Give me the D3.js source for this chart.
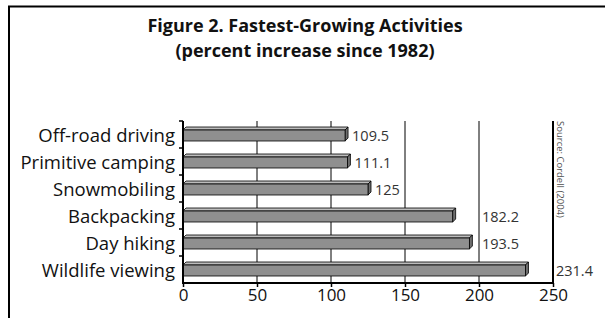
<!DOCTYPE html>
<html>
<head>
<meta charset="utf-8">
<script src="https://cdn.jsdelivr.net/npm/d3@7"></script>
<style>
body { margin: 0; background: #fff; }
text { font-family: "Open Sans", "DejaVu Sans", sans-serif; fill: #111; }
</style>
</head>
<body>
<div id="chart"></div>
<script>
// datos
var categorias = ["Off-road driving", "Primitive camping", "Snowmobiling", "Backpacking", "Day hiking", "Wildlife viewing"];
var valores = [109.5, 111.1, 125, 182.2, 193.5, 231.4];
var ticksX = [0, 50, 100, 150, 200, 250];
var titulo = ["Figure 2. Fastest-Growing Activities", "(percent increase since 1982)"];
var fuente = "Source: Cordell (2004)";

var width = 605;
var height = 318;
var margin = {top: 121, right: 52, bottom: 35, left: 183};
var depth = 3;
var barH = 11;

var svg = d3.select("#chart")
    .append("svg")
    .attr("width", width)
    .attr("height", height);

// marco exterior
svg.append("rect")
    .attr("x", 9)
    .attr("y", 6.5)
    .attr("width", 700)
    .attr("height", 400)
    .attr("fill", "none")
    .attr("stroke", "#000")
    .attr("stroke-width", 2);

svg.selectAll(".titulo")
    .data(titulo)
    .enter()
    .append("text")
    .attr("class", "titulo")
    .attr("x", 305)
    .attr("y", (d, i) => 32 + i * 25)
    .attr("text-anchor", "middle")
    .style("font-size", "18px")
    .style("font-weight", "bold")
    .text(d => d);

var scalex = d3.scaleLinear()
    .domain([0, 250])
    .range([margin.left, width - margin.right]);

var scaley = d3.scaleBand()
    .domain(categorias)
    .range([margin.top, height - margin.bottom]);

var g = svg.append("g");

// lineas verticales
g.selectAll(".grid")
    .data(ticksX.slice(1))
    .enter()
    .append("line")
    .attr("x1", d => scalex(d))
    .attr("x2", d => scalex(d))
    .attr("y1", margin.top)
    .attr("y2", height - margin.bottom)
    .attr("stroke", "#000")
    .attr("stroke-width", d => d == 250 ? 2 : 1);

var data = categorias.map((c, i) => ({cat: c, val: valores[i]}));

var barras = g.selectAll(".bar")
    .data(data)
    .enter()
    .append("g")
    .attr("class", "bar");

function yFront(d) {
    return scaley(d.cat) + scaley.bandwidth() / 2 - barH / 2 + 1;
}

// cara superior
barras.append("path")
    .attr("d", d => {
        var x0 = scalex(0), x1 = scalex(d.val), y = yFront(d);
        return "M" + x0 + "," + y + "L" + (x0 + depth) + "," + (y - depth) +
            "L" + (x1 + depth) + "," + (y - depth) + "L" + x1 + "," + y + "Z";
    })
    .attr("fill", "#bdbdbd")
    .attr("stroke", "#000")
    .attr("stroke-width", 0.8);

// cara lateral
barras.append("path")
    .attr("d", d => {
        var x1 = scalex(d.val), y = yFront(d);
        return "M" + x1 + "," + y + "L" + (x1 + depth) + "," + (y - depth) +
            "L" + (x1 + depth) + "," + (y - depth + barH) + "L" + x1 + "," + (y + barH) + "Z";
    })
    .attr("fill", "#6e6e6e")
    .attr("stroke", "#000")
    .attr("stroke-width", 0.8);

// cara frontal
barras.append("rect")
    .attr("x", scalex(0))
    .attr("y", d => yFront(d))
    .attr("width", d => scalex(d.val) - scalex(0))
    .attr("height", barH)
    .attr("fill", "#8f8f8f")
    .attr("stroke", "#000")
    .attr("stroke-width", 0.8);

// etiquetas de valor, se mueven si pisan una linea
barras.append("text")
    .attr("x", d => {
        var x = scalex(d.val) + depth + 4;
        var w = String(d.val).length * 8;
        ticksX.forEach(t => {
            var gx = scalex(t);
            if (gx > x - 1 && gx < x + w) x = gx + 3;
        });
        return x;
    })
    .attr("y", d => yFront(d) + barH)
    .style("font-size", "14.5px")
    .style("fill", "#333")
    .text(d => d.val);

// eje Y
var Yaxis = d3.axisLeft(scaley).tickSize(0).tickPadding(8);
var gy = svg.append("g")
    .attr("transform", "translate(" + margin.left + ",0)")
    .call(Yaxis);
gy.select(".domain").remove();
gy.selectAll("text")
    .style("font-size", "18.5px")
    .attr("dy", "0.4em");

svg.append("line")
    .attr("x1", margin.left).attr("x2", margin.left)
    .attr("y1", margin.top).attr("y2", height - margin.bottom + 1)
    .attr("stroke", "#000").attr("stroke-width", 2);

// marcas en los limites de cada categoria
svg.selectAll(".ytick")
    .data(categorias)
    .enter()
    .append("line")
    .attr("x1", margin.left - 4)
    .attr("x2", margin.left)
    .attr("y1", d => scaley(d))
    .attr("y2", d => scaley(d))
    .attr("stroke", "#000")
    .attr("stroke-width", 1.5);

// eje X
var Xaxis = d3.axisBottom(scalex).tickValues(ticksX).tickSize(4).tickPadding(2);
var gx = svg.append("g")
    .attr("transform", "translate(0," + (height - margin.bottom) + ")")
    .call(Xaxis);
gx.select(".domain").remove();
gx.selectAll("line").attr("stroke-width", 1.5);
gx.selectAll("text").style("font-size", "17px");

svg.append("line")
    .attr("x1", margin.left - 1).attr("x2", scalex(250) + 1)
    .attr("y1", height - margin.bottom).attr("y2", height - margin.bottom)
    .attr("stroke", "#000").attr("stroke-width", 2);

// fuente vertical
svg.append("text")
    .attr("transform", "translate(557,121) rotate(90)")
    .style("font-size", "9.5px")
    .style("fill", "#555")
    .text(fuente);
</script>
</body>
</html>
